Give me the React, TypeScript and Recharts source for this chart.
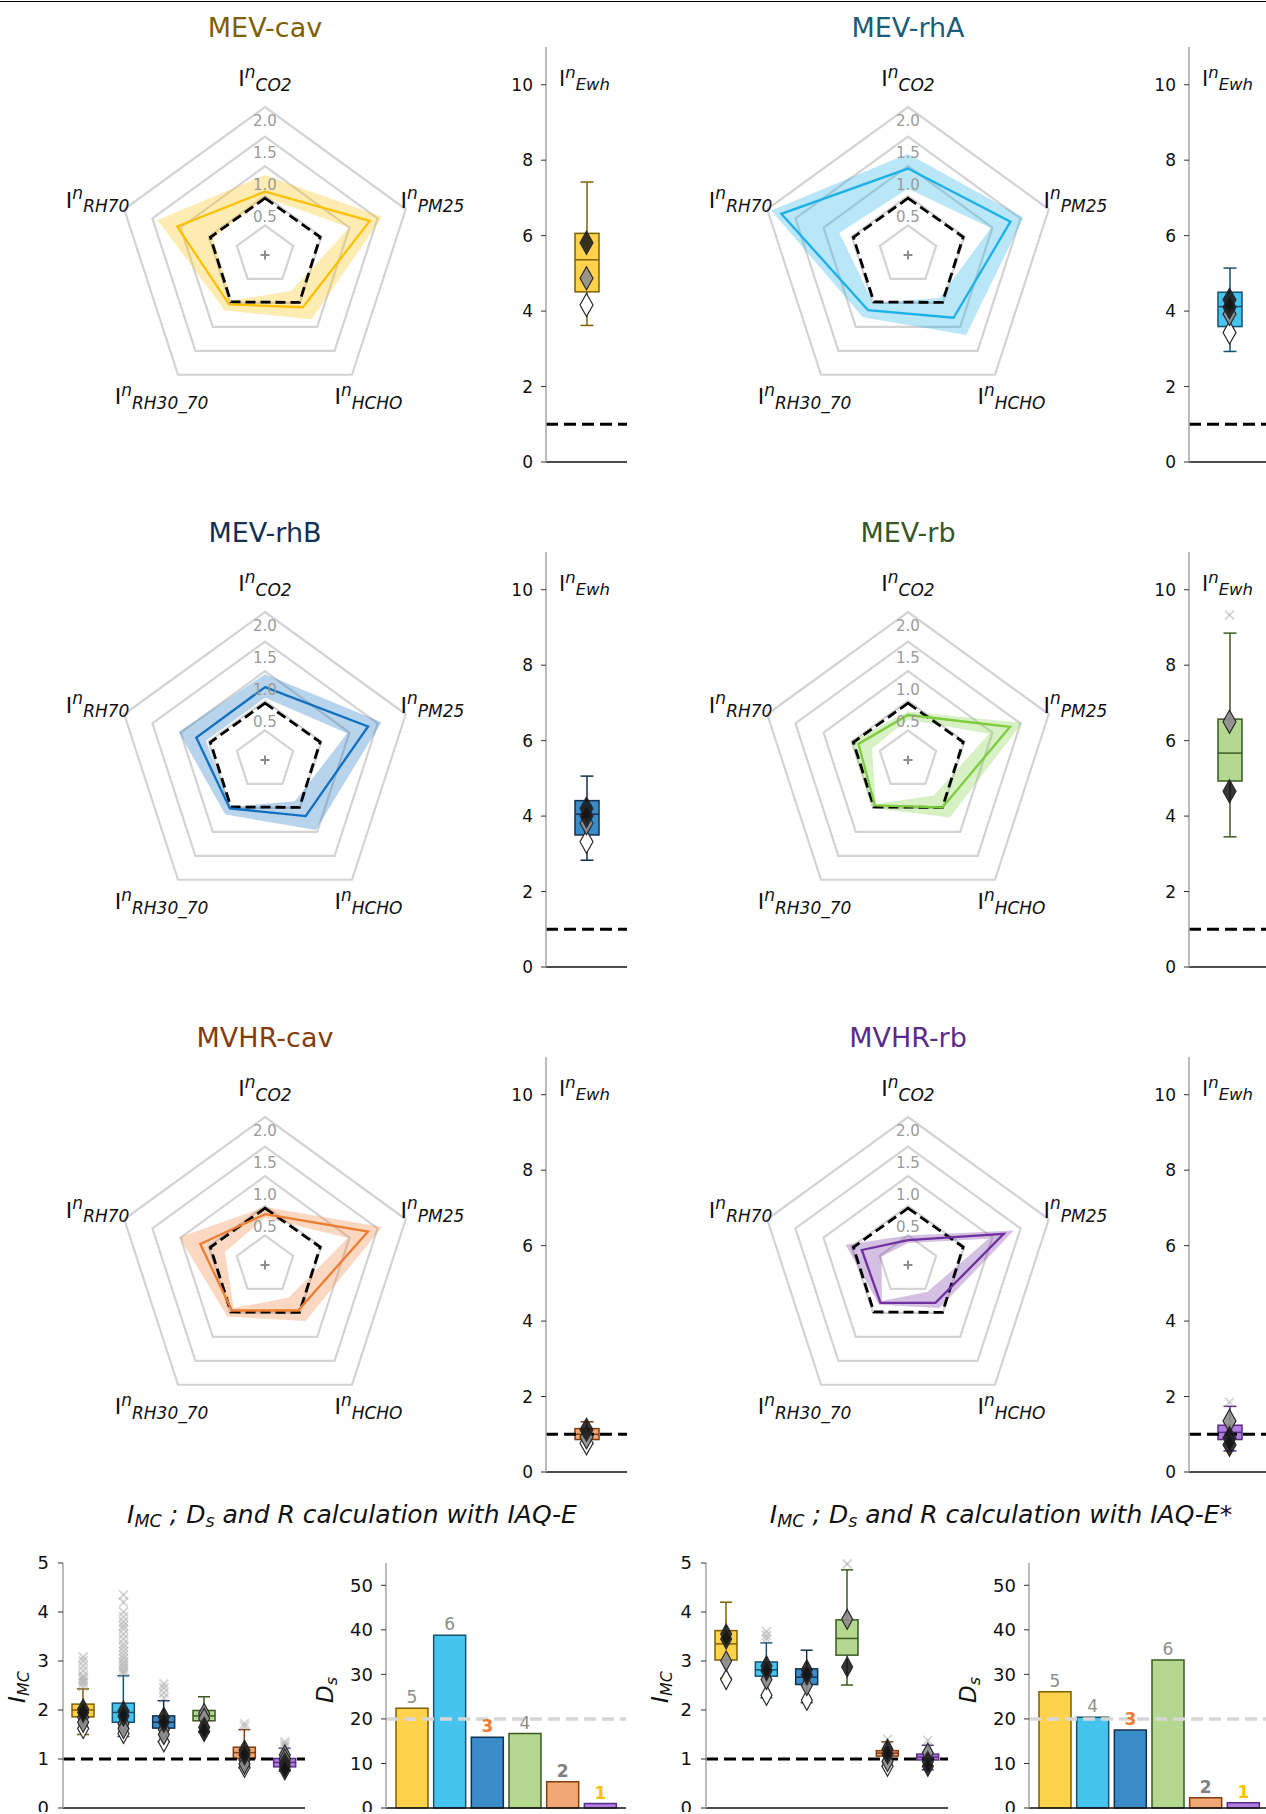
import React from 'react';
import {
  RadarChart, Radar, PolarGrid, PolarAngleAxis, PolarRadiusAxis,
  ComposedChart, BarChart, Bar, Scatter, XAxis, YAxis, ReferenceLine, Cell, LabelList,
} from 'recharts';

const FONT = '"DejaVu Sans", "Liberation Sans", sans-serif';

// ---- data ----
const systems = ['MEV-cav', 'MEV-rhA', 'MEV-rhB', 'MEV-rb', 'MVHR-cav', 'MVHR-rb'];
const radarAxes = ['CO2', 'PM25', 'HCHO', 'RH30_70', 'RH70'];
const radarRef = [0.46, 0.48, 0.49, 0.48, 0.47];
const radarMid = [
  [0.57, 1.36, 0.59, 0.53, 1.06],
  [0.96, 1.32, 0.81, 0.65, 1.75],
  [0.73, 1.33, 0.67, 0.51, 0.72],
  [0.26, 1.31, 0.49, 0.45, 0.38],
  [0.36, 1.33, 0.45, 0.45, 0.65],
  [-0.08, 1.2, 0.29, 0.29, 0.32],
];
const radarLow = [
  [0.47, 1.0, 0.25, 0.45, 0.42],
  [0.62, 0.97, 0.4, 0.5, 0.72],
  [0.55, 0.96, 0.36, 0.48, 0.55],
  [0.18, 0.94, 0.24, 0.42, 0.14],
  [0.3, 0.97, 0.18, 0.4, 0.21],
  [-0.13, 0.93, 0.06, 0.25, -0.03],
];
const radarHigh = [
  [0.85, 1.58, 0.84, 0.66, 1.41],
  [1.21, 1.55, 1.17, 0.8, 1.93],
  [0.95, 1.57, 0.96, 0.64, 1.03],
  [0.32, 1.53, 0.7, 0.5, 0.52],
  [0.48, 1.58, 0.67, 0.58, 1.02],
  [0.0, 1.38, 0.4, 0.33, 0.61],
];

const ewhLow = [3.62, 2.93, 2.83, 3.45, 0.75, 0.56];
const ewhQ1 = [4.51, 3.59, 3.5, 4.93, 0.86, 0.86];
const ewhMed = [5.36, 4.12, 4.05, 5.67, 1.0, 1.05];
const ewhQ3 = [6.06, 4.5, 4.41, 6.57, 1.15, 1.24];
const ewhHigh = [7.42, 5.14, 5.06, 8.85, 1.33, 1.74];
const ewhDark = [[5.81], [4.3, 4.1], [4.2, 4.0], [4.66], [1.12], [0.9, 0.72]];
const ewhGrey = [[4.87], [3.92], [3.81], [6.5], [0.92], [1.35]];
const ewhWhite = [[4.16], [3.43], [3.32], [], [0.76], []];
const ewhOut = [[], [], [], [9.33], [], [1.85]];

const imcALow = [1.5, 1.46, 1.35, 1.55, 0.82, 0.75];
const imcAQ1 = [1.86, 1.75, 1.63, 1.78, 1.01, 0.84];
const imcAMed = [2.0, 1.95, 1.75, 1.88, 1.13, 0.93];
const imcAQ3 = [2.12, 2.14, 1.88, 1.99, 1.24, 1.01];
const imcAHigh = [2.43, 2.7, 2.19, 2.27, 1.6, 1.22];
const imcADark = [[2.02, 1.95], [1.98, 1.88], [1.85, 1.75], [1.65, 1.56], [1.18, 1.08], [0.92, 0.85, 0.78]];
const imcAGrey = [[1.85, 1.75], [1.72, 1.62], [1.6, 1.5], [1.93, 1.83], [0.98, 0.9], [1.08, 1.0]];
const imcAWhite = [[1.62], [1.52], [1.35], [], [0.83], []];
const imcAOut = [
  [2.48, 2.55, 2.6, 2.65, 2.7, 2.8, 2.9, 3.0, 3.08],
  [2.75, 2.8, 2.86, 2.92, 2.98, 3.05, 3.12, 3.2, 3.28, 3.35, 3.45, 3.55, 3.65, 3.72, 3.8, 3.9, 4.0, 4.2, 4.35],
  [2.25, 2.35, 2.45, 2.53],
  [],
  [1.66, 1.72],
  [1.25, 1.3, 1.35],
];

const imcBLow = [2.65, 2.25, 2.15, 2.51, 0.85, 0.78];
const imcBQ1 = [3.02, 2.69, 2.52, 3.12, 1.06, 0.98];
const imcBMed = [3.35, 2.82, 2.67, 3.46, 1.12, 1.04];
const imcBQ3 = [3.62, 2.98, 2.84, 3.84, 1.17, 1.1];
const imcBHigh = [4.2, 3.37, 3.22, 4.86, 1.35, 1.28];
const imcBDark = [[3.55, 3.45], [2.9, 2.8], [2.82, 2.72], [2.88], [1.2, 1.1], [0.95, 0.85]];
const imcBGrey = [[3.0], [2.62], [2.5], [3.85], [0.95], [1.12]];
const imcBWhite = [[2.62], [2.3], [2.2], [], [0.85], []];
const imcBOut = [[], [3.45, 3.52, 3.6], [], [4.98], [1.4], [1.38]];

const dsA = [22.4, 38.8, 15.9, 16.7, 5.9, 1.0];
const rankA = [5, 6, 3, 4, 2, 1];
const dsB = [26.1, 20.4, 17.5, 33.2, 2.3, 1.2];
const rankB = [5, 4, 3, 6, 2, 1];

const ewhTicks = [0, 2, 4, 6, 8, 10];
const imcTicks = [0, 1, 2, 3, 4, 5];
const dsTicks = [0, 10, 20, 30, 40, 50];

// ---- styles ----
const titleColors = ['#7f6000', '#1a5d7a', '#12304f', '#385723', '#843c0c', '#5b2c87'];
const lineColors = ['#ffc000', '#1cb0e8', '#1070c0', '#7ccc3c', '#ed7d31', '#7030a0'];
const boxColors = ['#ffd24c', '#46c4f0', '#3a8cc8', '#b4d88f', '#f2a874', '#b07ee0'];
const edgeColors = ['#7f6000', '#17526e', '#12304f', '#3a5a22', '#843c0c', '#5b2c87'];
const rankStyle: Record<number, { color: string; bold: boolean }> = {
  1: { color: '#ffc000', bold: true },
  2: { color: '#808080', bold: true },
  3: { color: '#ed7d31', bold: true },
  4: { color: '#8c8c8c', bold: false },
  5: { color: '#8c8c8c', bold: false },
  6: { color: '#8c8c8c', bold: false },
};

const COL = 643;
const ROW = 505;
const RMIN = -0.5;

const range = (n: number) => Array.from({ length: n }, (_, k) => k);

// ---- radar pieces ----
const AngleTick = (p: any) => (
  <text x={p.x} y={p.y + 7} textAnchor="middle" fill="#111" fontFamily={FONT}>
    <tspan fontSize={22}>I</tspan>
    <tspan fontSize={17} fontStyle="italic" dy={-8.5}>n</tspan>
    <tspan fontSize={17} fontStyle="italic" dy={13}>{p.payload.value}</tspan>
  </text>
);

const RadiusTick = (p: any) => {
  const v = Number(p.payload.value);
  if (!(v > 0)) return <g />;
  const off = 13 + (2 - v) * 5.33;
  return (
    <text x={p.x} y={p.y + off + 5.5} textAnchor="middle" fontSize={15} fill="#9a9a9a" fontFamily={FONT}>
      {v.toFixed(1)}
    </text>
  );
};

const bandShape = (color: string) => (props: any) => {
  const pts = props.points || [];
  if (!pts.length) return <g />;
  const outer = pts.map((p: any) => `${p.x},${p.y}`);
  const inner = pts.map((p: any) => {
    const [lo, hi] = p.value;
    const k = (lo - RMIN) / (hi - RMIN);
    return `${p.cx + (p.x - p.cx) * k},${p.cy + (p.y - p.cy) * k}`;
  });
  const d = `M${outer.join('L')}ZM${inner.join('L')}Z`;
  return <path d={d} fill={color} fillOpacity={0.3} fillRule="evenodd" stroke="none" />;
};

const PlusDot = (p: any) => {
  if (p.index !== 0) return <g key={p.index} />;
  return (
    <g key={p.index} stroke="#8c8c8c" strokeWidth={2}>
      <line x1={p.cx - 4.5} x2={p.cx + 4.5} y1={p.cy} y2={p.cy} />
      <line x1={p.cx} x2={p.cx} y1={p.cy - 4.5} y2={p.cy + 4.5} />
    </g>
  );
};

const RadarPanel = ({ i }: { i: number }) => {
  const c = i % 2;
  const r = Math.floor(i / 2);
  const data = radarAxes.map((a, k) => ({
    axis: a,
    ref: radarRef[k],
    mid: radarMid[i][k],
    band: [radarLow[i][k], radarHigh[i][k]],
    centre: RMIN,
  }));
  return (
    <div style={{ position: 'absolute', left: COL * c, top: 20 + ROW * r }}>
      <RadarChart width={480} height={450} data={data} cx={265} cy={235} outerRadius={148}
        startAngle={90} endAngle={-270} margin={{ top: 0, right: 0, bottom: 0, left: 0 }}>
        <PolarGrid gridType="polygon" radialLines={false} stroke="#d3d3d3" strokeWidth={2.2} />
        <PolarAngleAxis dataKey="axis" tick={AngleTick} tickLine={false} axisLine={false} tickSize={28} />
        <Radar dataKey="band" stroke="none" fill={lineColors[i]} shape={bandShape(lineColors[i])} isAnimationActive={false} />
        <Radar dataKey="ref" stroke="#000" strokeWidth={2.8} strokeDasharray="10 5" fill="none" fillOpacity={0} isAnimationActive={false} />
        <Radar dataKey="mid" stroke={lineColors[i]} strokeWidth={2.3} fill="none" fillOpacity={0} isAnimationActive={false} />
        <Radar dataKey="centre" stroke="none" fill="none" fillOpacity={0} dot={PlusDot} isAnimationActive={false} />
        <PolarRadiusAxis angle={90} domain={[RMIN, 2]} tickCount={6} allowDecimals={true}
          axisLine={false} tickLine={false} tick={RadiusTick} />
      </RadarChart>
    </div>
  );
};

// ---- box plot pieces ----
const boxShape = (fills: string[], edges: string[], capW: number) => (p: any) => {
  const { x, y, width, height, payload } = p;
  const idx = (p.index ?? 0) % fills.length;
  const [lo, hi] = payload.whisk;
  const top = Math.min(y, y + height);
  const h = Math.abs(height);
  const py = (v: number) => top + ((hi - v) / (hi - lo)) * h;
  const cx = x + width / 2;
  const e = edges[idx];
  return (
    <g stroke={e} strokeWidth={1.5}>
      <line x1={cx} x2={cx} y1={py(hi)} y2={py(payload.q3)} />
      <line x1={cx} x2={cx} y1={py(payload.q1)} y2={py(lo)} />
      <line x1={cx - capW / 2} x2={cx + capW / 2} y1={py(hi)} y2={py(hi)} />
      <line x1={cx - capW / 2} x2={cx + capW / 2} y1={py(lo)} y2={py(lo)} />
      <rect x={x} y={py(payload.q3)} width={width} height={py(payload.q1) - py(payload.q3)} fill={fills[idx]} />
      <line x1={x} x2={x + width} y1={py(payload.med)} y2={py(payload.med)} />
    </g>
  );
};

const diaStyle: Record<string, { fill: string; op: number }> = {
  dark: { fill: '#141414', op: 0.85 },
  grey: { fill: '#8d8d8d', op: 0.9 },
  white: { fill: '#ffffff', op: 1 },
};

const diamondShape = (kind: string, j: number, hw: number, hh: number) => (p: any) => {
  const v = p.payload?.[kind]?.[j];
  if (v == null || !Number.isFinite(p.cx) || !Number.isFinite(p.cy)) return <g />;
  const { cx, cy } = p;
  const s = diaStyle[kind];
  return (
    <polygon points={`${cx},${cy - hh} ${cx + hw},${cy} ${cx},${cy + hh} ${cx - hw},${cy}`}
      fill={s.fill} fillOpacity={s.op} stroke="#2a2a2a" strokeWidth={1.2} />
  );
};

const crossShape = (j: number) => (p: any) => {
  const v = p.payload?.out?.[j];
  if (v == null || !Number.isFinite(p.cx) || !Number.isFinite(p.cy)) return <g />;
  const { cx, cy } = p;
  const s = 4.5;
  return (
    <g stroke="#9a9a9a" strokeOpacity={0.4} strokeWidth={2}>
      <line x1={cx - s} x2={cx + s} y1={cy - s} y2={cy + s} />
      <line x1={cx - s} x2={cx + s} y1={cy + s} y2={cy - s} />
    </g>
  );
};

type BoxRow = {
  name: string; whisk: number[]; q1: number; med: number; q3: number;
  dark: number[]; grey: number[]; white: number[]; out: number[];
};

const BoxChart = (props: {
  rows: BoxRow[]; fills: string[]; edges: string[]; width: number; height: number; top: number; bottom: number;
  yWidth: number; domain: number[]; ticks: number[]; barSize: number; capW: number;
  hw: number; hh: number; font: number; tickMargin: number;
}) => {
  const { rows } = props;
  const maxOf = (key: 'dark' | 'grey' | 'white' | 'out') => Math.max(0, ...rows.map((r) => r[key].length));
  return (
    <ComposedChart width={props.width} height={props.height} data={rows}
      margin={{ top: props.top, right: 0, bottom: props.bottom, left: 0 }}>
      <XAxis dataKey="name" tick={false} tickLine={false} height={1} axisLine={{ stroke: '#111', strokeWidth: 1.5 }} />
      <YAxis domain={props.domain} ticks={props.ticks} interval={0} width={props.yWidth}
        axisLine={{ stroke: '#aaaaaa', strokeWidth: 1.6 }} tickLine={{ stroke: '#333' }} tickSize={5}
        tickMargin={props.tickMargin} tick={{ fill: '#111', fontSize: props.font, fontFamily: FONT }} />
      <Bar dataKey="whisk" barSize={props.barSize} shape={boxShape(props.fills, props.edges, props.capW)} isAnimationActive={false} />
      {range(maxOf('out')).map((j) => (
        <Scatter key={`o${j}`} dataKey={(r: BoxRow) => r.out[j]} shape={crossShape(j)} isAnimationActive={false} />
      ))}
      {range(maxOf('white')).map((j) => (
        <Scatter key={`w${j}`} dataKey={(r: BoxRow) => r.white[j]} shape={diamondShape('white', j, props.hw, props.hh)} isAnimationActive={false} />
      ))}
      {range(maxOf('grey')).map((j) => (
        <Scatter key={`g${j}`} dataKey={(r: BoxRow) => r.grey[j]} shape={diamondShape('grey', j, props.hw, props.hh)} isAnimationActive={false} />
      ))}
      {range(maxOf('dark')).map((j) => (
        <Scatter key={`d${j}`} dataKey={(r: BoxRow) => r.dark[j]} shape={diamondShape('dark', j, props.hw, props.hh)} isAnimationActive={false} />
      ))}
      <ReferenceLine y={1} stroke="#000" strokeWidth={3} strokeDasharray="12 6" />
    </ComposedChart>
  );
};

const EwhPanel = ({ i }: { i: number }) => {
  const c = i % 2;
  const r = Math.floor(i / 2);
  const rows: BoxRow[] = [{
    name: systems[i], whisk: [ewhLow[i], ewhHigh[i]], q1: ewhQ1[i], med: ewhMed[i], q3: ewhQ3[i],
    dark: ewhDark[i], grey: ewhGrey[i], white: ewhWhite[i], out: ewhOut[i],
  }];
  return (
    <div style={{ position: 'absolute', left: 490 + COL * c, top: 30 + ROW * r }}>
      <BoxChart rows={rows} fills={[boxColors[i]]} edges={[edgeColors[i]]} width={137} height={445} top={17} bottom={12}
        yWidth={56} domain={[0, 11]} ticks={ewhTicks} barSize={24} capW={13} hw={6.5} hh={11.5}
        font={17} tickMargin={8} />
    </div>
  );
};

const makeImcRows = (lo: number[], q1: number[], med: number[], q3: number[], hi: number[],
  dark: number[][], grey: number[][], white: number[][], out: number[][]): BoxRow[] =>
  systems.map((s, k) => ({
    name: s, whisk: [lo[k], hi[k]], q1: q1[k], med: med[k], q3: q3[k],
    dark: dark[k], grey: grey[k], white: white[k], out: out[k],
  }));

const imcRowsA = makeImcRows(imcALow, imcAQ1, imcAMed, imcAQ3, imcAHigh, imcADark, imcAGrey, imcAWhite, imcAOut);
const imcRowsB = makeImcRows(imcBLow, imcBQ1, imcBMed, imcBQ3, imcBHigh, imcBDark, imcBGrey, imcBWhite, imcBOut);

const RankLabel = (p: any) => {
  const rk = Number(p.value);
  const st = rankStyle[rk];
  return (
    <text x={p.x + p.width / 2} y={p.y - 5} textAnchor="middle" fontSize={17} fontFamily={FONT}
      fontWeight={st.bold ? 'bold' : 'normal'} fill={st.color}>{rk}</text>
  );
};

const DsChart = ({ values, ranks }: { values: number[]; ranks: number[] }) => {
  const rows = systems.map((s, k) => ({ name: s, ds: values[k], rank: ranks[k] }));
  return (
    <BarChart width={306} height={272} data={rows} margin={{ top: 23, right: 0, bottom: 3, left: 0 }}
      barCategoryGap={0}>
      <XAxis dataKey="name" tick={false} tickLine={false} height={1} padding={{ left: 7, right: 7 }}
        axisLine={{ stroke: '#111', strokeWidth: 1.5 }} />
      <YAxis domain={[0, 55]} ticks={dsTicks} interval={0} width={66}
        axisLine={{ stroke: '#aaaaaa', strokeWidth: 1.6 }} tickLine={{ stroke: '#333' }} tickSize={5}
        tickMargin={8} tick={{ fill: '#111', fontSize: 18, fontFamily: FONT }} />
      <ReferenceLine y={20} stroke="#d6d6d6" strokeWidth={3.5} strokeDasharray="12 6" />
      <Bar dataKey="ds" barSize={32} isAnimationActive={false}>
        {rows.map((_, k) => (
          <Cell key={k} fill={boxColors[k]} stroke={edgeColors[k]} strokeWidth={1.5} />
        ))}
        <LabelList dataKey="rank" content={RankLabel} />
      </Bar>
    </BarChart>
  );
};

const BottomTitle = ({ x, star }: { x: number; star: boolean }) => (
  <text x={x} y={1523} textAnchor="middle" fontSize={25} fontStyle="italic" fill="#111" fontFamily={FONT}>
    <tspan>I</tspan>
    <tspan fontSize={17.5} dy={4}>MC</tspan>
    <tspan dy={-4}>{' ; D'}</tspan>
    <tspan fontSize={17.5} dy={4}>s</tspan>
    <tspan dy={-4}>{` and R calculation with IAQ-E${star ? '*' : ''}`}</tspan>
  </text>
);

const RotLabel = ({ x, y, main, sub }: { x: number; y: number; main: string; sub: string }) => (
  <text x={x} y={y} transform={`rotate(-90 ${x} ${y})`} textAnchor="middle" fontSize={23}
    fontStyle="italic" fill="#111" fontFamily={FONT}>
    {main}
    <tspan fontSize={16} dy={4}>{sub}</tspan>
  </text>
);

export default function App() {
  return (
    <div style={{ position: 'absolute', left: 0, top: 0, width: 1266, height: 1814, overflow: 'hidden', background: '#fff', fontFamily: FONT }}>
      <div style={{ position: 'absolute', left: 0, top: 1, width: 1266, height: 1, background: '#000' }} />
      {systems.map((_, i) => <RadarPanel key={`r${i}`} i={i} />)}
      {systems.map((_, i) => <EwhPanel key={`e${i}`} i={i} />)}
      <div style={{ position: 'absolute', left: 0, top: 1540 }}>
        <BoxChart rows={imcRowsA} fills={boxColors} edges={edgeColors} width={305} height={272} top={23} bottom={3}
          yWidth={63} domain={[0, 5]} ticks={imcTicks} barSize={22} capW={12} hw={5.5} hh={10}
          font={18} tickMargin={9} />
      </div>
      <div style={{ position: 'absolute', left: COL, top: 1540 }}>
        <BoxChart rows={imcRowsB} fills={boxColors} edges={edgeColors} width={305} height={272} top={23} bottom={3}
          yWidth={63} domain={[0, 5]} ticks={imcTicks} barSize={22} capW={12} hw={5.5} hh={10}
          font={18} tickMargin={9} />
      </div>
      <div style={{ position: 'absolute', left: 320, top: 1540 }}>
        <DsChart values={dsA} ranks={rankA} />
      </div>
      <div style={{ position: 'absolute', left: 320 + COL, top: 1540 }}>
        <DsChart values={dsB} ranks={rankB} />
      </div>
      <svg width={1266} height={1814} style={{ position: 'absolute', left: 0, top: 0, pointerEvents: 'none' }}>
        {systems.map((s, i) => {
          const c = i % 2;
          const r = Math.floor(i / 2);
          return (
            <g key={`t${i}`}>
              <text x={265 + COL * c} y={37 + ROW * r} textAnchor="middle" fontSize={27} fill={titleColors[i]} fontFamily={FONT}>{s}</text>
              <text x={559 + COL * c} y={86 + ROW * r} fill="#111" fontFamily={FONT}>
                <tspan fontSize={21}>I</tspan>
                <tspan fontSize={16.5} fontStyle="italic" dy={-8}>n</tspan>
                <tspan fontSize={16.5} fontStyle="italic" dy={12}>Ewh</tspan>
              </text>
            </g>
          );
        })}
        <BottomTitle x={352} star={false} />
        <BottomTitle x={1001} star={true} />
        <RotLabel x={25} y={1687} main="I" sub="MC" />
        <RotLabel x={25 + COL} y={1687} main="I" sub="MC" />
        <RotLabel x={333} y={1690} main="D" sub="s" />
        <RotLabel x={333 + COL} y={1690} main="D" sub="s" />
      </svg>
    </div>
  );
}
